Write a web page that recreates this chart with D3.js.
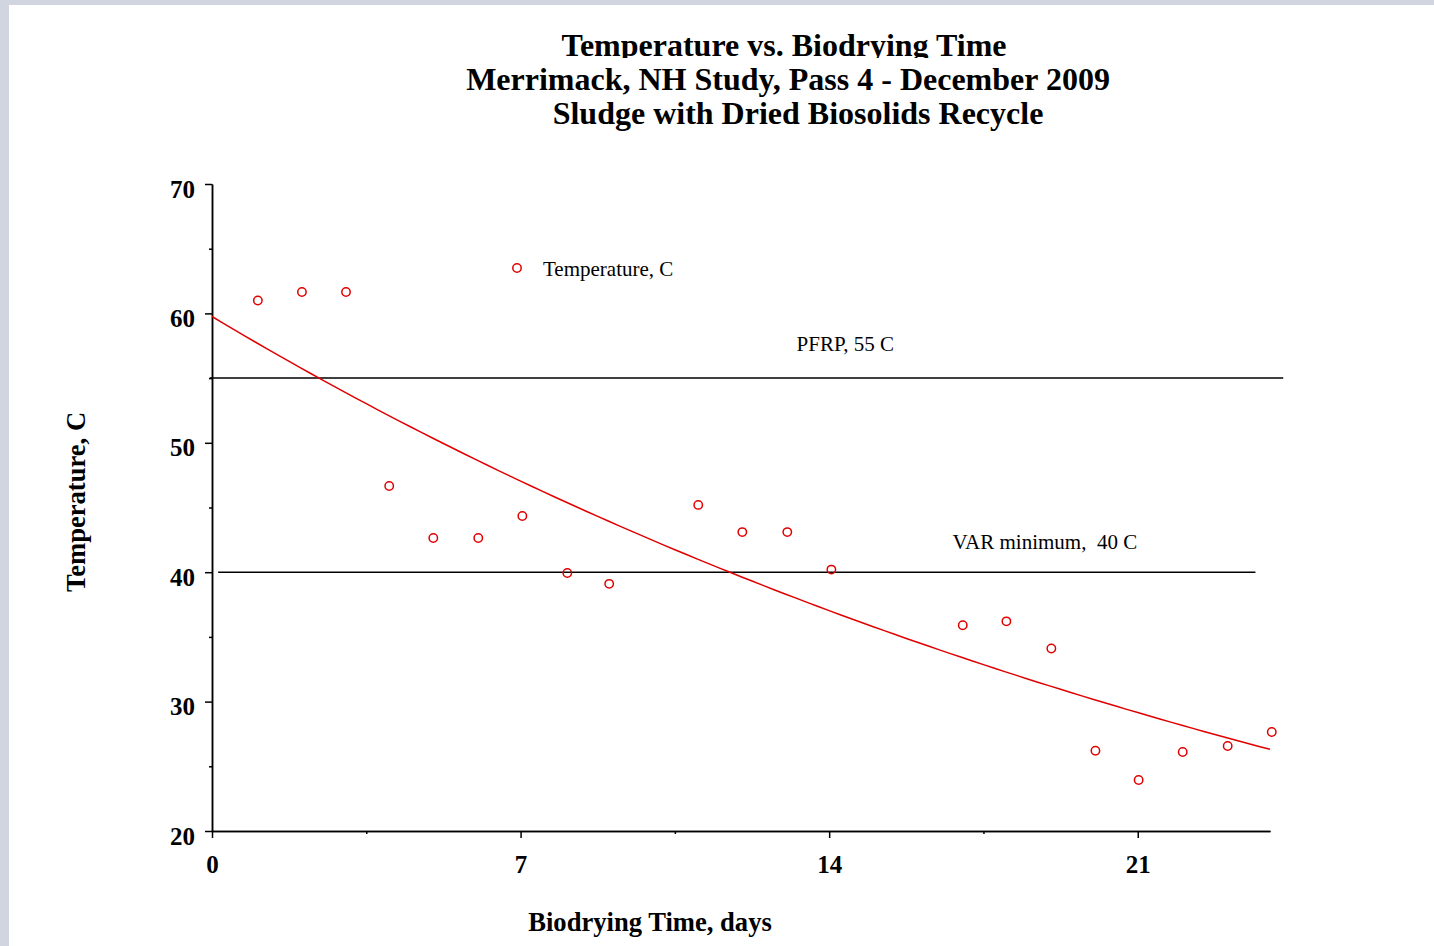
<!DOCTYPE html>
<html>
<head>
<meta charset="utf-8">
<script src="https://cdn.jsdelivr.net/npm/d3@7"></script>
<style>
  html, body { margin: 0; padding: 0; background: #d1d5df; }
  svg { display: block; }
  text { font-family: "Liberation Serif", "Times New Roman", serif; fill: #000; }
  .bold { font-weight: bold; }
</style>
</head>
<body>
<div id="chart"></div>
<script>
// Chart data
var days = [1.04, 2.04, 3.04, 4.02, 5.02, 6.04, 7.04, 8.06, 9.01, 11.03, 12.03, 13.05, 14.05,
            17.03, 18.02, 19.04, 20.04, 21.02, 22.02, 23.04, 24.04];
var temps = [61.0, 61.65, 61.65, 46.66, 42.64, 42.64, 44.34, 39.94, 39.1, 45.2, 43.1, 43.1, 40.2,
             35.9, 36.2, 34.1, 26.2, 23.94, 26.1, 26.57, 27.65];

var yTicks = [20, 30, 40, 50, 60, 70];
var yMinorTicks = [25, 35, 45, 55, 65];
var xTicks = [0, 7, 14, 21];
var xMinorTicks = [3.5, 10.5, 17.5];

// exponential trendline as drawn: value at day 0 and at day 24
var trendDays = [0, 24];
var trendTemps = [59.76, 26.31];

// reference limits: value, label, start and end day of the line
var limitValues = [55, 40];
var limitLabels = ["PFRP, 55 C", "VAR minimum,  40 C"];
var limitStart = [-0.05, 0.14];
var limitEnd = [24.3, 23.67];
var limitLabelDay = [13.26, 16.8];

var titleLines = ["Temperature vs. Biodrying Time",
                  "Merrimack, NH Study, Pass 4 - December 2009",
                  "Sludge with Dried Biosolids Recycle"];

// Chart setup
var width = 1434;
var height = 946;
var red = "#e00000";

var svg = d3.select("#chart")
  .append("svg")
  .attr("width", width)
  .attr("height", height);

// white page, gray frame shows on top and left
svg.append("rect")
  .attr("x", 9).attr("y", 5)
  .attr("width", width - 9).attr("height", height - 5)
  .attr("fill", "#fff");

var x = d3.scaleLinear().domain([0, 24]).range([212, 1270]);
var y = d3.scaleLinear().domain([20, 70]).range([831, 184]);

// Titles
var titleX = [784, 788, 798];
svg.append("clipPath").attr("id", "clipTop")
  .append("rect").attr("x", 0).attr("y", 0).attr("width", width).attr("height", 58);

svg.append("g").selectAll("text")
  .data(titleLines)
  .enter()
  .append("text")
  .attr("class", "bold")
  .attr("x", function(d, i) { return titleX[i]; })
  .attr("y", function(d, i) { return 56 + i * 34; })
  .attr("text-anchor", "middle")
  .attr("font-size", 32)
  .attr("clip-path", function(d, i) { return i === 0 ? "url(#clipTop)" : null; })
  .text(function(d) { return d; });

// Axes
var yAxis = d3.axisLeft(y).tickValues(yTicks).tickSize(7).tickSizeOuter(0).tickPadding(10);
var yMinor = d3.axisLeft(y).tickValues(yMinorTicks).tickSize(3).tickSizeOuter(0).tickFormat("");
var xAxis = d3.axisBottom(x).tickValues(xTicks).tickSize(7).tickSizeOuter(0);
var xMinor = d3.axisBottom(x).tickValues(xMinorTicks).tickSize(3).tickSizeOuter(0).tickFormat("");

function styleAxis(g) {
  g.select(".domain").attr("stroke", "#000").attr("stroke-width", 1.5);
  g.selectAll(".tick line").attr("stroke", "#000").attr("stroke-width", 1.5);
}

var gy = svg.append("g").attr("transform", "translate(" + x(0) + ",0)").call(yAxis).call(styleAxis);
svg.append("g").attr("transform", "translate(" + x(0) + ",0)").call(yMinor).call(styleAxis);
gy.selectAll("text")
  .attr("class", "bold")
  .attr("font-family", null)
  .attr("font-size", 25)
  .attr("dy", 13);

var gx = svg.append("g").attr("transform", "translate(0," + y(20) + ")").call(xAxis).call(styleAxis);
svg.append("g").attr("transform", "translate(0," + y(20) + ")").call(xMinor).call(styleAxis);
gx.selectAll("text")
  .attr("class", "bold")
  .attr("font-family", null)
  .attr("font-size", 25)
  .attr("y", 42)
  .attr("dy", 0);

// Axis titles
svg.append("text")
  .attr("class", "bold")
  .attr("x", 650).attr("y", 931)
  .attr("text-anchor", "middle")
  .attr("font-size", 26.6)
  .text("Biodrying Time, days");

svg.append("text")
  .attr("class", "bold")
  .attr("transform", "translate(85," + 502 + ")rotate(-90)")
  .attr("text-anchor", "middle")
  .attr("font-size", 26.6)
  .text("Temperature, C");

// Reference limit lines
limitValues.forEach(function(v, i) {
  svg.append("line")
    .attr("x1", x(limitStart[i])).attr("x2", x(limitEnd[i]))
    .attr("y1", y(v)).attr("y2", y(v))
    .attr("stroke", "#000").attr("stroke-width", 1.5);
  svg.append("text")
    .attr("x", x(limitLabelDay[i]))
    .attr("y", y(v) - (i === 0 ? 27 : 23))
    .attr("font-size", 21)
    .attr("xml:space", "preserve")
    .text(limitLabels[i]);
});

// Exponential trendline between the two read end values
var k = Math.log(trendTemps[1] / trendTemps[0]) / (trendDays[1] - trendDays[0]);
var fitDays = d3.range(trendDays[0], trendDays[1] + 0.001, 0.25);

svg.append("path")
  .datum(fitDays)
  .attr("fill", "none")
  .attr("stroke", red)
  .attr("stroke-width", 1.5)
  .attr("d", d3.line()
    .x(function(t) { return x(t); })
    .y(function(t) { return y(trendTemps[0] * Math.exp(k * (t - trendDays[0]))); }));

// Data points
svg.append("g").selectAll("circle")
  .data(days)
  .enter()
  .append("circle")
  .attr("cx", function(d) { return x(d); })
  .attr("cy", function(d, i) { return y(temps[i]); })
  .attr("r", 4.2)
  .attr("fill", "none")
  .attr("stroke", red)
  .attr("stroke-width", 1.5);

// Legend
var legend = svg.append("g").attr("transform", "translate(517,268)");
legend.append("circle")
  .attr("r", 4.2)
  .attr("fill", "none")
  .attr("stroke", red)
  .attr("stroke-width", 1.5);
legend.append("text")
  .attr("x", 26).attr("y", 8)
  .attr("font-size", 21)
  .text("Temperature, C");
</script>
</body>
</html>
